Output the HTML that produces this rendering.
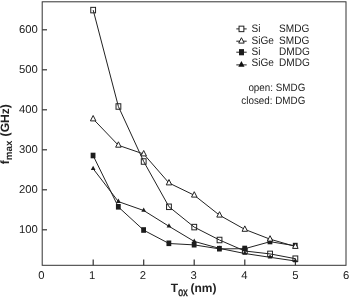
<!DOCTYPE html>
<html><head><meta charset="utf-8"><title>fmax vs Tox</title>
<style>
html,body{margin:0;padding:0;background:#fff;}
body{width:350px;height:297px;overflow:hidden;}
svg{display:block;filter:blur(0.3px);}
text{text-rendering:geometricPrecision;font-family:"Liberation Sans",Arial,sans-serif;fill:#1c1c1c;}
.tk{font-size:11.3px;}
.lg{font-size:10.1px;}
.ax{font-size:12px;font-weight:bold;fill:#222;}
.sub{font-size:9.5px;}
</style></head><body>
<svg width="350" height="297" viewBox="0 0 350 297">
<rect x="0" y="0" width="350" height="297" fill="#fff"/>
<rect x="42.2" y="1.8" width="303.8" height="263.5" fill="none" stroke="#333" stroke-width="1.0"/>
<line x1="93.2" y1="265.3" x2="93.2" y2="259.5" stroke="#333" stroke-width="1.2"/>
<line x1="143.7" y1="265.3" x2="143.7" y2="259.5" stroke="#333" stroke-width="1.2"/>
<line x1="194.2" y1="265.3" x2="194.2" y2="259.5" stroke="#333" stroke-width="1.2"/>
<line x1="244.8" y1="265.3" x2="244.8" y2="259.5" stroke="#333" stroke-width="1.2"/>
<line x1="295.4" y1="265.3" x2="295.4" y2="259.5" stroke="#333" stroke-width="1.2"/>
<line x1="42.2" y1="229.8" x2="47.0" y2="229.8" stroke="#333" stroke-width="1.2"/>
<line x1="42.2" y1="189.8" x2="47.0" y2="189.8" stroke="#333" stroke-width="1.2"/>
<line x1="42.2" y1="149.8" x2="47.0" y2="149.8" stroke="#333" stroke-width="1.2"/>
<line x1="42.2" y1="109.8" x2="47.0" y2="109.8" stroke="#333" stroke-width="1.2"/>
<line x1="42.2" y1="69.8" x2="47.0" y2="69.8" stroke="#333" stroke-width="1.2"/>
<line x1="42.2" y1="29.8" x2="47.0" y2="29.8" stroke="#333" stroke-width="1.2"/>
<text x="41.3" y="278.5" text-anchor="middle" class="tk">0</text>
<text x="92.1" y="278.5" text-anchor="middle" class="tk">1</text>
<text x="142.9" y="278.5" text-anchor="middle" class="tk">2</text>
<text x="193.7" y="278.5" text-anchor="middle" class="tk">3</text>
<text x="244.5" y="278.5" text-anchor="middle" class="tk">4</text>
<text x="295.3" y="278.5" text-anchor="middle" class="tk">5</text>
<text x="346.1" y="278.5" text-anchor="middle" class="tk">6</text>
<text x="37.8" y="233.2" text-anchor="end" class="tk">100</text>
<text x="37.8" y="193.2" text-anchor="end" class="tk">200</text>
<text x="37.8" y="153.2" text-anchor="end" class="tk">300</text>
<text x="37.8" y="113.2" text-anchor="end" class="tk">400</text>
<text x="37.8" y="73.2" text-anchor="end" class="tk">500</text>
<text x="37.8" y="33.2" text-anchor="end" class="tk">600</text>
<polyline fill="none" stroke="#222" stroke-width="1.0" points="93.2,10.1 118.4,106.5 143.7,161.5 169.0,206.8 194.2,227.1 219.5,240.0 244.8,251.0 270.1,253.9 295.4,258.7"/>
<polyline fill="none" stroke="#222" stroke-width="1.0" points="93.2,119.0 118.4,145.3 143.7,154.0 169.0,183.0 194.2,195.2 219.5,215.2 244.8,229.4 270.1,239.2 295.4,246.5"/>
<polyline fill="none" stroke="#222" stroke-width="1.0" points="93.2,155.7 118.4,207.0 143.7,230.2 169.0,243.5 194.2,244.9 219.5,248.9 244.8,248.7 270.1,241.7 295.4,245.8"/>
<polyline fill="none" stroke="#222" stroke-width="1.0" points="93.2,168.8 118.4,201.6 143.7,210.5 169.0,226.3 194.2,241.4 219.5,248.4 244.8,253.5 270.1,257.3 295.4,261.0"/>
<rect x="90.75" y="7.35" width="4.8" height="5.5" fill="none" stroke="#222" stroke-width="1"/>
<rect x="116.02" y="103.75" width="4.8" height="5.5" fill="none" stroke="#222" stroke-width="1"/>
<rect x="141.30" y="158.75" width="4.8" height="5.5" fill="none" stroke="#222" stroke-width="1"/>
<rect x="166.57" y="204.05" width="4.8" height="5.5" fill="none" stroke="#222" stroke-width="1"/>
<rect x="191.85" y="224.35" width="4.8" height="5.5" fill="none" stroke="#222" stroke-width="1"/>
<rect x="217.12" y="237.25" width="4.8" height="5.5" fill="none" stroke="#222" stroke-width="1"/>
<rect x="242.40" y="248.25" width="4.8" height="5.5" fill="none" stroke="#222" stroke-width="1"/>
<rect x="267.68" y="251.15" width="4.8" height="5.5" fill="none" stroke="#222" stroke-width="1"/>
<rect x="292.95" y="255.95" width="4.8" height="5.5" fill="none" stroke="#222" stroke-width="1"/>
<rect x="90.65" y="152.70" width="4.8" height="5.6" fill="#1c1c1c"/>
<rect x="115.92" y="204.00" width="4.8" height="5.6" fill="#1c1c1c"/>
<rect x="141.20" y="227.20" width="4.8" height="5.6" fill="#1c1c1c"/>
<rect x="166.47" y="240.50" width="4.8" height="5.6" fill="#1c1c1c"/>
<rect x="191.75" y="241.90" width="4.8" height="5.6" fill="#1c1c1c"/>
<rect x="217.02" y="245.90" width="4.8" height="5.6" fill="#1c1c1c"/>
<rect x="242.30" y="245.70" width="4.8" height="5.6" fill="#1c1c1c"/>
<rect x="267.57" y="238.70" width="4.8" height="5.6" fill="#1c1c1c"/>
<rect x="292.85" y="242.80" width="4.8" height="5.6" fill="#1c1c1c"/>
<polygon points="93.15,115.50 95.90,120.90 90.40,120.90" fill="#fff" stroke="#222" stroke-width="1.0" stroke-linejoin="miter"/>
<polygon points="118.42,141.80 121.17,147.20 115.67,147.20" fill="#fff" stroke="#222" stroke-width="1.0" stroke-linejoin="miter"/>
<polygon points="143.70,150.50 146.45,155.90 140.95,155.90" fill="#fff" stroke="#222" stroke-width="1.0" stroke-linejoin="miter"/>
<polygon points="168.97,179.50 171.72,184.90 166.22,184.90" fill="#fff" stroke="#222" stroke-width="1.0" stroke-linejoin="miter"/>
<polygon points="194.25,191.70 197.00,197.10 191.50,197.10" fill="#fff" stroke="#222" stroke-width="1.0" stroke-linejoin="miter"/>
<polygon points="219.52,211.70 222.27,217.10 216.77,217.10" fill="#fff" stroke="#222" stroke-width="1.0" stroke-linejoin="miter"/>
<polygon points="244.80,225.90 247.55,231.30 242.05,231.30" fill="#fff" stroke="#222" stroke-width="1.0" stroke-linejoin="miter"/>
<polygon points="270.07,235.70 272.82,241.10 267.32,241.10" fill="#fff" stroke="#222" stroke-width="1.0" stroke-linejoin="miter"/>
<polygon points="295.35,243.00 298.10,248.40 292.60,248.40" fill="#fff" stroke="#222" stroke-width="1.0" stroke-linejoin="miter"/>
<polygon points="93.15,165.80 95.50,170.10 90.80,170.10" fill="#1c1c1c"/>
<polygon points="118.42,198.60 120.77,202.90 116.07,202.90" fill="#1c1c1c"/>
<polygon points="143.70,207.50 146.05,211.80 141.35,211.80" fill="#1c1c1c"/>
<polygon points="168.97,223.30 171.32,227.60 166.62,227.60" fill="#1c1c1c"/>
<polygon points="194.25,238.40 196.60,242.70 191.90,242.70" fill="#1c1c1c"/>
<polygon points="219.52,245.40 221.87,249.70 217.17,249.70" fill="#1c1c1c"/>
<polygon points="244.80,250.50 247.15,254.80 242.45,254.80" fill="#1c1c1c"/>
<polygon points="270.07,254.30 272.43,258.60 267.72,258.60" fill="#1c1c1c"/>
<polygon points="295.35,258.00 297.70,262.30 293.00,262.30" fill="#1c1c1c"/>
<line x1="236.3" y1="28.9" x2="246.7" y2="28.9" stroke="#222" stroke-width="1.0"/>
<rect x="239.05" y="26.15" width="4.8" height="5.5" fill="#fff" stroke="#222" stroke-width="1"/>
<text transform="translate(251.5,32.0) scale(1,1.08)" class="lg">Si</text>
<text transform="translate(279.0,32.0) scale(1,1.08)" class="lg">SMDG</text>
<line x1="236.3" y1="41.2" x2="246.7" y2="41.2" stroke="#222" stroke-width="1.0"/>
<polygon points="241.45,37.70 244.20,43.10 238.70,43.10" fill="#fff" stroke="#222" stroke-width="1.0" stroke-linejoin="miter"/>
<text transform="translate(251.5,43.6) scale(1,1.08)" class="lg">SiGe</text>
<text transform="translate(279.0,43.6) scale(1,1.08)" class="lg">SMDG</text>
<line x1="236.3" y1="52.2" x2="246.7" y2="52.2" stroke="#222" stroke-width="1.0"/>
<rect x="239.0" y="49.10" width="5.0" height="6.2" fill="#1c1c1c"/>
<text transform="translate(251.5,55.1) scale(1,1.08)" class="lg">Si</text>
<text transform="translate(279.0,55.1) scale(1,1.08)" class="lg">DMDG</text>
<line x1="236.3" y1="64.9" x2="246.7" y2="64.9" stroke="#222" stroke-width="1.0"/>
<polygon points="241.4,61.00 244.5,66.80 238.3,66.80" fill="#111"/>
<text transform="translate(251.5,66.1) scale(1,1.08)" class="lg">SiGe</text>
<text transform="translate(279.0,66.1) scale(1,1.08)" class="lg">DMDG</text>
<text transform="translate(305.3,91) scale(1,1.08)" text-anchor="end" class="lg" style="font-size:9.85px">open: SMDG</text>
<text transform="translate(305.3,104) scale(1,1.08)" text-anchor="end" class="lg" style="font-size:9.85px">closed: DMDG</text>
<text x="170.7" y="292.2" class="ax">T</text>
<text transform="translate(178.3,295.5) scale(1,1.36)" class="ax" style="font-size:8.8px;font-weight:normal;stroke:#222;stroke-width:0.35px">ox</text>
<text x="190.5" y="292.0" class="ax">(nm)</text>
<text transform="translate(8.9,164.2) rotate(-90)" class="ax">f</text>
<text transform="translate(11.9,160.2) rotate(-90)" class="ax" style="font-size:9.8px">max</text>
<text transform="translate(8.9,136.4) rotate(-90)" class="ax" style="font-size:12.1px">(GHz)</text>
</svg>
</body></html>
